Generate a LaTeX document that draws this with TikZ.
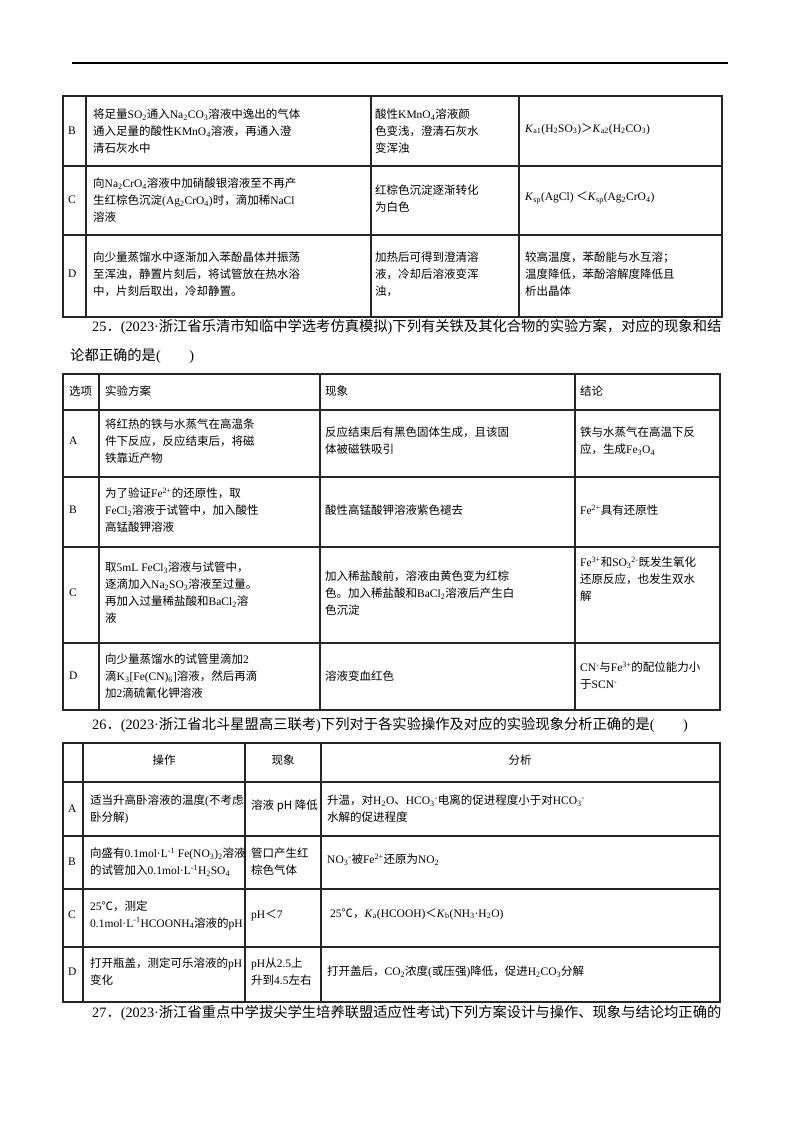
\documentclass[tikz,border=0pt]{standalone}
\usepackage{fontspec}
\setmainfont{Liberation Serif}
\newfontfamily\cjk{Noto Sans CJK SC}
\XeTeXinterchartokenstate=1
\newXeTeXintercharclass\CJKcls
\newcount\cc
\def\setcls#1#2{\cc=#1 \loop\XeTeXcharclass\cc=\CJKcls \ifnum\cc<#2 \advance\cc by 1 \repeat}
\setcls{"3000}{"303F}
\setcls{"4E00}{"9FFF}
\setcls{"FF00}{"FFEF}
\setcls{"2103}{"2103}
\XeTeXinterchartoks 0 \CJKcls = {\cjk}
\XeTeXinterchartoks 4095 \CJKcls = {\cjk}
\XeTeXinterchartoks \CJKcls 0 = {\rmfamily}
\newcommand{\dn}[1]{\textsubscript{\rmfamily #1}}
\newcommand{\up}[1]{\textsuperscript{\rmfamily #1}}
\newcommand{\KK}{\rmfamily\textit{K}}
\tikzset{
  cell/.style={anchor=west,align=left,inner sep=0pt,font=\fontsize{11.5}{17}\selectfont},
  ccell/.style={align=center,inner sep=0pt,font=\fontsize{11.5}{17}\selectfont},
  capt/.style={anchor=west,inner sep=0pt,font=\fontsize{14.3}{17}\selectfont},
  grid/.style={line width=1.1pt,draw=black!85},
}
\begin{document}
\begin{tikzpicture}[x=1pt,y=-1pt]
\useasboundingbox (0,0) rectangle (800,1132);
\draw[line width=1.3pt] (72,63) -- (728,63);
% Table 1
\draw[grid] (63,96) rectangle (722,317);
\foreach \y in {166,235} \draw[grid] (63,\y) -- (722,\y);
\foreach \x in {86,371,519} \draw[grid] (\x,96) -- (\x,317);
\node[cell] (a1) at (68,131) {B};
\node[cell] (a2) at (93,131) {将足量SO\dn{2}通入Na\dn{2}CO\dn{3}溶液中逸出的气体\\通入足量的酸性KMnO\dn{4}溶液，再通入澄\\清石灰水中};
\node[cell] (a3) at (375,131) {酸性KMnO\dn{4}溶液颜\\色变浅，澄清石灰水\\变浑浊};
\node[cell] (a4) at (525,129) {\KK\dn{a1}(H\dn{2}SO\dn{3})＞\KK\dn{a2}\rmfamily(H\dn{2}CO\dn{3})};
\node[cell] (b1) at (68,200) {C};
\node[cell] (b2) at (93,200) {向Na\dn{2}CrO\dn{4}溶液中加硝酸银溶液至不再产\\生红棕色沉淀(Ag\dn{2}CrO\dn{4})时，滴加稀NaCl\\溶液};
\node[cell] (b3) at (375,199) {红棕色沉淀逐渐转化\\为白色};
\node[cell] (b4) at (525,198) {\KK\dn{sp}(AgCl) ＜\KK\dn{sp}\rmfamily(Ag\dn{2}CrO\dn{4})};
\node[cell] (c1) at (68,274) {D};
\node[cell] (c2) at (93,274) {向少量蒸馏水中逐渐加入苯酚晶体并振荡\\至浑浊，静置片刻后，将试管放在热水浴\\中，片刻后取出，冷却静置。};
\node[cell] (c3) at (375,274) {加热后可得到澄清溶\\液，冷却后溶液变浑\\浊，};
\node[cell] (c4) at (525,274) {较高温度，苯酚能与水互溶；\\温度降低，苯酚溶解度降低且\\析出晶体};
\node[capt] (q25) at (92,327) {25．(2023·浙江省乐清市知临中学选考仿真模拟)下列有关铁及其化合物的实验方案，对应的现象和结};
\node[capt] (q25b) at (70,356) {论都正确的是(\qquad)};
% Table 2
\draw[grid] (63,374) rectangle (720,710);
\foreach \y in {410,477,547,643} \draw[grid] (63,\y) -- (720,\y);
\foreach \x in {99,320,575} \draw[grid] (\x,374) -- (\x,710);
\node[cell] (h1) at (69,391) {选项};
\node[cell] (h2) at (105,391) {实验方案};
\node[cell] (h3) at (325,391) {现象};
\node[cell] (h4) at (580,391) {结论};
\node[cell] (d1) at (69,441) {A};
\node[cell] (d2) at (105,441) {将红热的铁与水蒸气在高温条\\件下反应，反应结束后，将磁\\铁靠近产物};
\node[cell] (d3) at (325,441) {反应结束后有黑色固体生成，且该固\\体被磁铁吸引};
\node[cell] (d4) at (580,441) {铁与水蒸气在高温下反\\应，生成Fe\dn{3}O\dn{4}};
\node[cell] (e1) at (69,510) {B};
\node[cell] (e2) at (105,510) {为了验证Fe\up{2+}的还原性，取\\FeCl\dn{2}溶液于试管中，加入酸性\\高锰酸钾溶液};
\node[cell] (e3) at (325,510) {酸性高锰酸钾溶液紫色褪去};
\node[cell] (e4) at (580,510) {Fe\up{2+}具有还原性};
\node[cell] (f1) at (69,593) {C};
\node[cell] (f2) at (105,593) {取5mL FeCl\dn{3}溶液与试管中，\\逐滴加入Na\dn{2}SO\dn{3}溶液至过量。\\再加入过量稀盐酸和BaCl\dn{2}溶\\液};
\node[cell] (f3) at (325,593) {加入稀盐酸前，溶液由黄色变为红棕\\色。加入稀盐酸和BaCl\dn{2}溶液后产生白\\色沉淀};
\node[cell] (f4) at (580,579) {Fe\up{3+}和SO\dn{3}\up{2-}既发生氧化\\还原反应，也发生双水\\解};
\node[cell] (g1) at (69,676) {D};
\node[cell] (g2) at (105,676) {向少量蒸馏水的试管里滴加2\\滴K\dn{3}[Fe(CN)\dn{6}]溶液，然后再滴\\加2滴硫氰化钾溶液};
\node[cell] (g3) at (325,676) {溶液变血红色};
\node[cell] (g4) at (580,676) {CN\up{-}与Fe\up{3+}的配位能力小\\于SCN\up{-}};
\node[capt] (q26) at (92,725) {26．(2023·浙江省北斗星盟高三联考)下列对于各实验操作及对应的实验现象分析正确的是(\qquad)};
% Table 3
\draw[grid] (63,743) rectangle (720,1002);
\foreach \y in {782,836,889,947} \draw[grid] (63,\y) -- (720,\y);
\foreach \x in {83,245,321} \draw[grid] (\x,743) -- (\x,1002);
\node[ccell] (k2) at (164,760) {操作};
\node[ccell] (k3) at (283,760) {现象};
\node[ccell] (k4) at (520,760) {分析};
\node[cell] (m1) at (68,809) {A};
\node[cell] (m2) at (90,809) {适当升高卧溶液的温度(不考虑\\卧分解)};
\node[cell] (m3) at (251,806) {溶液 pH 降低};
\node[cell] (m4) at (327,809) {升温，对H\dn{2}O、HCO\dn{3}\up{-}电离的促进程度小于对HCO\dn{3}\up{-}\\水解的促进程度};
\node[cell] (n1) at (68,862) {B};
\node[cell] (n2) at (90,862) {向盛有0.1mol·L\up{-1} Fe(NO\dn{3})\dn{2}溶液\\的试管加入0.1mol·L\up{-1}H\dn{2}SO\dn{4}};
\node[cell] (n3) at (251,862) {管口产生红\\棕色气体};
\node[cell] (n4) at (327,860) {NO\dn{3}\up{-}被Fe\up{2+}还原为NO\dn{2}};
\node[cell] (o1) at (68,915) {C};
\node[cell] (o2) at (90,915) {25℃，测定\\0.1mol·L\up{-1}HCOONH\dn{4}溶液的pH};
\node[cell] (o3) at (251,915) {pH＜\rmfamily 7};
\node[cell] (o4) at (330,914) {25℃，\KK\dn{a}(HCOOH)＜\KK\dn{b}\rmfamily(NH\dn{3}·H\dn{2}O)};
\node[cell] (p1) at (68,972) {D};
\node[cell] (p2) at (90,972) {打开瓶盖，测定可乐溶液的pH\\变化};
\node[cell] (p3) at (251,972) {pH从2.5上\\升到4.5左右};
\node[cell] (p4) at (327,972) {打开盖后，CO\dn{2}浓度(或压强)降低，促进H\dn{2}CO\dn{3}分解};
\node[capt] (q27) at (92,1013) {27．(2023·浙江省重点中学拔尖学生培养联盟适应性考试)下列方案设计与操作、现象与结论均正确的};
\end{tikzpicture}
\end{document}
